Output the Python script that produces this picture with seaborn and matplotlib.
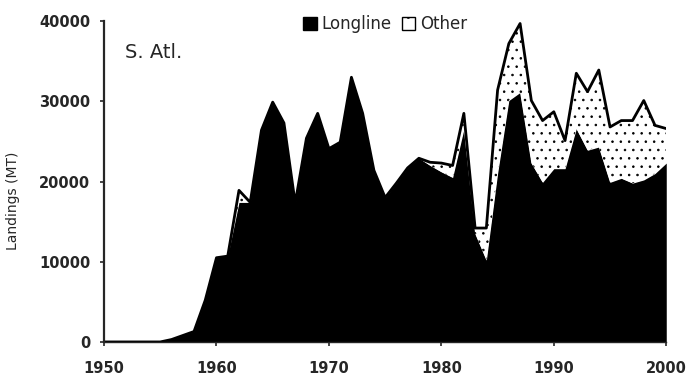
import numpy as np
import pandas as pd
import matplotlib
matplotlib.use('Agg')
import matplotlib.pyplot as plt
from matplotlib.patches import Patch
import seaborn as sns

# Landings by year (MT)
years = list(range(1950, 2001))
longline = [0, 0, 0, 0, 0, 0, 300, 800, 1300, 5200,
            10500, 10700, 17400, 17400, 26400, 29900, 27300, 17300, 25400, 28500,
            24100, 24900, 33000, 28500, 21400, 18000, 19800, 21700, 22900, 22000,
            21200, 20500, 26500, 13500, 10200, 21000, 30100, 31100, 22300, 19900,
            21600, 21600, 26600, 23900, 24300, 19900, 20400, 19800, 20200, 21000,
            22300]
other = [0, 0, 0, 0, 0, 0, 0, 0, 0, 0,
         0, 0, 1500, 0, 0, 0, 0, 0, 0, 0,
         0, 0, 0, 0, 0, 0, 0, 0, 0, 400,
         1100, 1500, 2000, 700, 4000, 10400, 7100, 8600, 7800, 7700,
         7100, 3500, 6900, 7300, 9600, 6900, 7200, 7800, 9900, 6000,
         4300]

data = pd.DataFrame({'Year': years, 'Longline': longline, 'Other': other})
data['Total'] = data['Longline'] + data['Other']

sns.set_style('ticks')
plt.rcParams['font.family'] = ['DejaVu Sans']
plt.rcParams['hatch.linewidth'] = 0.6

fig = plt.figure(figsize=(6.89, 3.77), dpi=100)
ax = fig.add_axes([0.151, 0.093, 0.816, 0.851])

ax.fill_between(data['Year'], 0, data['Longline'], color='black', lw=0)
ax.fill_between(data['Year'], data['Longline'], data['Total'], facecolor='white',
                edgecolor='black', hatch='..', lw=0)
sns.lineplot(data=data, x='Year', y='Total', color='black', lw=2, ax=ax,
             legend=False)

ax.set_xlim(1950, 2000)
ax.set_ylim(0, 40000)
ax.set_xticks(range(1950, 2001, 10))
ax.set_yticks(range(0, 40001, 10000))
ax.tick_params(labelsize=10.5, length=3, width=1.2)
ax.tick_params(axis='x', pad=11)
ax.tick_params(axis='y', pad=7)
for lab in ax.get_xticklabels() + ax.get_yticklabels():
    lab.set_fontweight('bold')
ax.set_xlabel('')
ax.set_ylabel('Landings (MT)', fontsize=10)
ax.yaxis.set_label_coords(-0.149, 0.44)
sns.despine(ax=ax)
ax.spines['left'].set_linewidth(1.6)
ax.spines['bottom'].set_linewidth(1.0)

ax.text(1951.9, 36100, 'S. Atl.', fontsize=14, va='center')

handles = [Patch(facecolor='black', edgecolor='black'),
           Patch(facecolor='white', edgecolor='black', hatch='.')]
ax.legend(handles, ['Longline', 'Other'], loc='center',
          bbox_to_anchor=(0.5, 0.99), ncol=2, frameon=False, fontsize=12,
          handlelength=0.8, handleheight=0.8, handletextpad=0.3,
          columnspacing=0.6, borderaxespad=0)

fig.savefig('out.png', dpi=100)
